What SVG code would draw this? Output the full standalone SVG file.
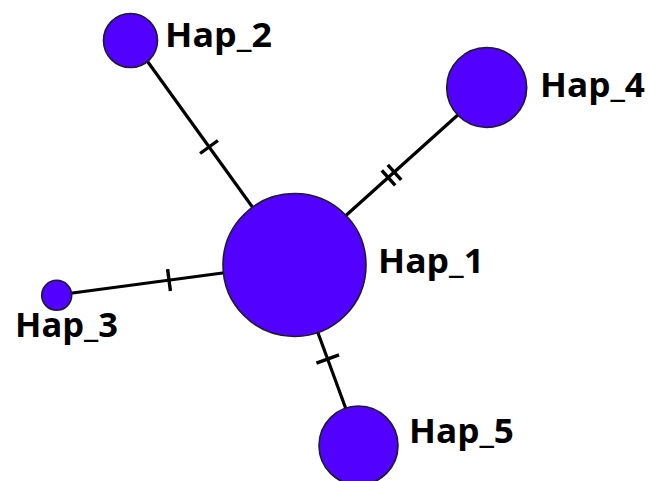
<svg xmlns="http://www.w3.org/2000/svg" width="649" height="481" viewBox="0 0 649 481">
<style>
.edge{stroke:#000;stroke-width:3.2;fill:none;stroke-linecap:butt}
.tick{stroke:#000;stroke-width:3.4;fill:none}
.hap{fill:#5200ff;stroke:#1c1c2a;stroke-width:1.6}
.lbl{font-family:"Open Sans","Liberation Sans",sans-serif;font-weight:bold;font-size:34px;fill:#000}
</style>
<rect width="649" height="481" fill="#fff"/>
<g id="connectors">
<line class="edge" x1="140" y1="51" x2="256" y2="212"/>
<line class="tick" x1="200.1" y1="153.5" x2="217.9" y2="140.5"/>
<line class="edge" x1="470" y1="104" x2="342" y2="219"/>
<line class="tick" x1="381.8" y1="170.3" x2="395.2" y2="185.3"/>
<line class="tick" x1="387.8" y1="164.9" x2="401.2" y2="179.9"/>
<line class="edge" x1="65" y1="294" x2="230" y2="272"/>
<line class="tick" x1="167.6" y1="269.1" x2="170.4" y2="291"/>
<line class="edge" x1="314" y1="322" x2="350" y2="420"/>
<line class="tick" x1="316.4" y1="363.1" x2="339" y2="354.9"/>
</g>
<g id="hap1"><circle class="hap" cx="294.5" cy="265" r="71.5"/><text class="lbl" x="378" y="273" textLength="106" lengthAdjust="spacingAndGlyphs">Hap_1</text></g>
<g id="hap2"><circle class="hap" cx="130.5" cy="40.5" r="27"/><text class="lbl" x="165" y="47" textLength="107" lengthAdjust="spacingAndGlyphs">Hap_2</text></g>
<g id="hap3"><circle class="hap" cx="56.7" cy="295.3" r="15"/><text class="lbl" x="15" y="337" textLength="103" lengthAdjust="spacingAndGlyphs">Hap_3</text></g>
<g id="hap4"><circle class="hap" cx="486.7" cy="87.5" r="40"/><text class="lbl" x="540" y="97" textLength="105" lengthAdjust="spacingAndGlyphs">Hap_4</text></g>
<g id="hap5"><circle class="hap" cx="358.5" cy="445.5" r="39.5"/><text class="lbl" x="409" y="443" textLength="105" lengthAdjust="spacingAndGlyphs">Hap_5</text></g>
</svg>
